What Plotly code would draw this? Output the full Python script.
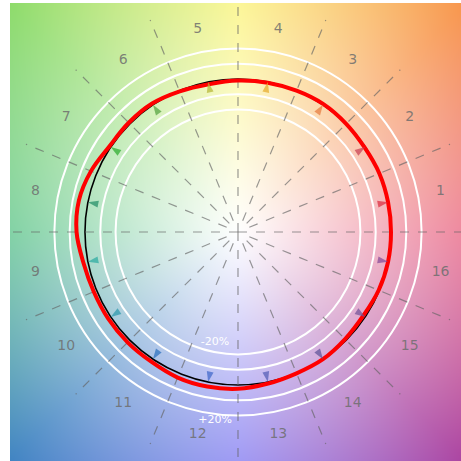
import base64
import struct
import zlib

import numpy as np
import plotly.graph_objects as go

# sector numbers and their marker colours
sectors = list(range(1, 17))
sector_colors = [
    "#dc283c", "#c83c50", "#e6783c", "#e6aa28", "#b4b432", "#50a03c",
    "#28aa28", "#1e8c64", "#28aaa0", "#2896aa", "#286ebe", "#3c64c8",
    "#505ab4", "#5a5096", "#6e5096", "#824696",
]
ref_r = [1.0] * 16

# measured curve (relative radius, 1 = reference)
curve_theta = [
    0, 11.25, 22.5, 33.75, 45, 56.25, 67.5, 78.75,
    90, 101.25, 112.5, 123.75, 135, 146.25, 157.5, 168.75,
    180, 191.25, 202.5, 213.75, 225, 236.25, 247.5, 258.75,
    270, 281.25, 292.5, 303.75, 315, 326.25, 337.5, 348.75,
]
curve_r = [
    1.00, 1.00, 1.00, 0.995, 1.00, 1.005, 1.00, 0.995,
    0.99, 0.985, 0.995, 1.01, 1.01, 1.01, 1.04, 1.06,
    1.055, 1.03, 1.02, 1.02, 1.02, 1.02, 1.03, 1.03,
    1.025, 1.01, 1.00, 1.00, 0.99, 0.985, 0.995, 1.00,
]

ring_levels = [-20, -10, 10, 20]

# background hue wheel anchors (angle, rgb at radius 1.5)
bg_angles = [0, 45, 90, 135, 180, 225, 270, 315]
bg_colors = [
    (238, 135, 158), (250, 180, 128), (252, 247, 152), (175, 230, 150),
    (130, 210, 165), (120, 168, 212), (160, 155, 245), (196, 122, 188),
]

X0, X1 = -1.490, 1.4575
Y0, Y1 = -1.497, 1.497


def background_png(w, h):
    xs = X0 + (np.arange(w) + 0.5) * (X1 - X0) / w
    ys = Y1 - (np.arange(h) + 0.5) * (Y1 - Y0) / h
    gx, gy = np.meshgrid(xs, ys)
    ang = np.degrees(np.arctan2(gy, gx)) % 360
    t = np.hypot(gx, gy) / 1.5
    a = np.array(bg_angles + [360], dtype=float)
    cols = np.array(bg_colors + [bg_colors[0]], dtype=float)
    img = np.zeros((h, w, 3))
    for c in range(3):
        edge = np.interp(ang, a, cols[:, c])
        img[:, :, c] = 255 + (edge - 255) * t
    img = np.clip(img, 0, 255).astype(np.uint8)
    raw = b"".join(b"\x00" + img[i].tobytes() for i in range(h))

    def chunk(tag, data):
        c = struct.pack(">I", len(data)) + tag + data
        return c + struct.pack(">I", zlib.crc32(tag + data) & 0xFFFFFFFF)

    png = b"\x89PNG\r\n\x1a\n"
    png += chunk(b"IHDR", struct.pack(">IIBBBBB", w, h, 8, 2, 0, 0, 0))
    png += chunk(b"IDAT", zlib.compress(raw, 9))
    png += chunk(b"IEND", b"")
    return "data:image/png;base64," + base64.b64encode(png).decode()


fig = go.Figure()

# dashed spokes (diagonals stop short of the centre)
sx, sy = [], []
for deg in np.arange(0, 360, 22.5):
    a = np.radians(deg)
    r0 = 0.0 if deg % 90 == 0 else 0.08
    sx += [r0 * np.cos(a), 1.5 * np.cos(a), None]
    sy += [r0 * np.sin(a), 1.5 * np.sin(a), None]
fig.add_trace(go.Scatter(
    x=sx, y=sy, mode="lines", hoverinfo="skip",
    line=dict(color="rgba(100,100,100,0.65)", width=1.2, dash="dash"),
))

# rings
for lvl in ring_levels:
    r = 1 + lvl / 100
    fig.add_shape(type="circle", x0=-r, y0=-r, x1=r, y1=r, layer="between",
                  line=dict(color="white", width=2))
fig.add_shape(type="circle", x0=-1, y0=-1, x1=1, y1=1, layer="between",
              line=dict(color="black", width=1.6))

# measured curve
th = np.radians(curve_theta + [curve_theta[0]])
rr = np.array(curve_r + [curve_r[0]])
fig.add_trace(go.Scatter(
    x=rr * np.cos(th), y=rr * np.sin(th), mode="lines",
    line=dict(color="#ff0000", width=4, shape="spline"), hoverinfo="skip",
))

# sector markers and labels
mid = 11.25 + 22.5 * np.arange(16)
mr = np.radians(mid)
fig.add_trace(go.Scatter(
    x=np.array(ref_r) * np.cos(mr), y=np.array(ref_r) * np.sin(mr),
    mode="markers",
    marker=dict(symbol="arrow", size=11, color=sector_colors, opacity=0.7,
                angle=list(90 - mid), line=dict(width=0)),
    hoverinfo="skip",
))
fig.add_trace(go.Scatter(
    x=1.35 * np.cos(mr), y=1.35 * np.sin(mr), mode="text",
    text=[str(s) for s in sectors],
    textfont=dict(family="DejaVu Sans", size=14, color="rgba(110,110,110,0.85)"),
    hoverinfo="skip",
))

# ring labels
fig.add_trace(go.Scatter(
    x=[-0.15, -0.15], y=[-np.sqrt(0.8**2 - 0.15**2) + 0.03, -np.sqrt(1.2**2 - 0.15**2) - 0.005],
    mode="text", text=["-20%", "+20%"], textposition=["top center", "bottom center"],
    textfont=dict(family="DejaVu Sans", size=11, color="white"),
    hoverinfo="skip",
))

fig.add_layout_image(
    source=background_png(451, 458), xref="x", yref="y",
    x=X0, y=Y1, sizex=X1 - X0, sizey=Y1 - Y0,
    xanchor="left", yanchor="top", sizing="stretch", layer="below",
)

fig.update_layout(
    width=461, height=461,
    margin=dict(l=10, r=0, t=3, b=0, pad=0),
    paper_bgcolor="white", plot_bgcolor="white",
    showlegend=False,
    xaxis=dict(range=[X0, X1], visible=False, fixedrange=True),
    yaxis=dict(range=[Y0, Y1], visible=False, fixedrange=True),
)

fig.write_html("out.html", config={"displayModeBar": False},
               post_script="document.body.style.margin='0';")
